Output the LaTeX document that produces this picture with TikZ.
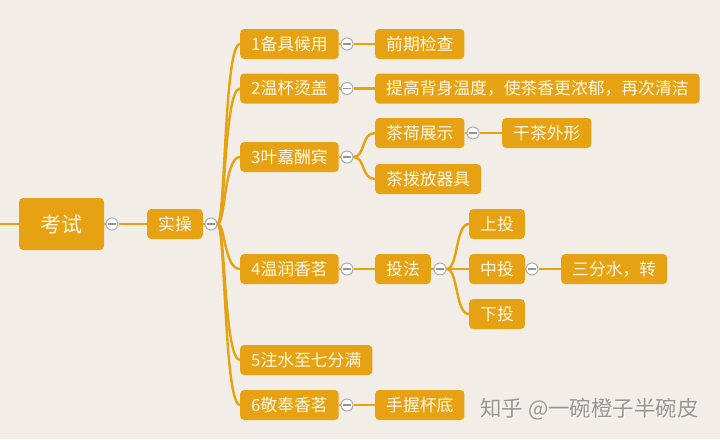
\documentclass[tikz,border=0pt]{standalone}
\usepackage{fontspec}
\newfontfamily\cjk{Noto Sans CJK SC}
\definecolor{boxc}{HTML}{E6A212}
\definecolor{linec}{HTML}{E6A212}
\definecolor{bgc}{HTML}{F2EEE7}
\definecolor{txt}{HTML}{FFF7E6}
\definecolor{wm}{HTML}{979591}
\definecolor{wmsh}{HTML}{FFFFFF}
\tikzset{
  box/.style={fill=boxc, rounded corners=4pt, text=txt, anchor=west,
    font=\cjk\fontsize{16.8}{18}\selectfont, minimum height=30pt,
    inner xsep=11pt, inner ysep=0pt},
  tog/.style={circle, draw=gray!65, fill=white, line width=1pt,
    minimum size=12pt, inner sep=0pt,
    path picture={\draw[gray!85, line width=1.3pt]
      ([xshift=-3.8pt]path picture bounding box.center) --
      ([xshift=3.8pt]path picture bounding box.center);}},
  link/.style={draw=linec, line width=2.4pt},
  wmark/.style={font=\cjk\fontsize{21.5}{23}\selectfont, anchor=west, inner sep=0pt},
}
\begin{document}
\begin{tikzpicture}[x=1pt,y=-1pt]
\fill[bgc] (0,0) rectangle (720,439);
\useasboundingbox (0,0) rectangle (720,439);
% nodes
\node[box, anchor=center, minimum width=85pt, minimum height=52pt,
  font=\cjk\fontsize{21}{24}\selectfont] (ks) at (61.5,224) {考试};
\node[box] (sc) at (147,224) {实操};
\node[box] (n1) at (240,44) {1备具候用};
\node[box] (n2) at (240,88.5) {2温杯烫盖};
\node[box] (n3) at (240,157) {3叶嘉酬宾};
\node[box] (n4) at (240,269) {4温润香茗};
\node[box] (n5) at (240,360) {5注水至七分满};
\node[box] (n6) at (240,405) {6敬奉香茗};
\node[box] (a1) at (375,44) {前期检查};
\node[box] (a2) at (375,88.5) {提高背身温度，使茶香更浓郁，再次清洁};
\node[box] (a3) at (375,133) {茶荷展示};
\node[box] (a4) at (375,179) {茶拨放器具};
\node[box] (a5) at (502,133) {干茶外形};
\node[box] (tf) at (375,269) {投法};
\node[box] (sh) at (469,224) {上投};
\node[box] (zh) at (469,269) {中投};
\node[box] (xi) at (469,314) {下投};
\node[box] (sf) at (561,269) {三分水，转};
\node[box] (a6) at (375,405) {手握杯底};
% toggles
\node[tog] (t0) at (112,224) {};
\node[tog] (t1) at (211,224) {};
\node[tog] (tn1) at (347,44) {};
\node[tog] (tn2) at (347,88.5) {};
\node[tog] (tn3) at (347,157) {};
\node[tog] (tn4) at (347,269) {};
\node[tog] (tn6) at (347,405) {};
\node[tog] (ta3) at (473,133) {};
\node[tog] (ttf) at (440,269) {};
\node[tog] (tzh) at (532,269) {};
% watermark
\node[wmark, text=wmsh] (wms) at (481,410) {知乎 @一碗橙子半碗皮};
\node[wmark, text=wm] (wmk) at (480,409) {知乎 @一碗橙子半碗皮};
% connectors
\coordinate (L) at (0,224);
\draw[link] (L) -- (ks.west);
\draw[link] (ks.east) -- (t0.west);
\draw[link] (t0.east) -- (sc.west);
\draw[link] (sc.east) -- (t1.west);
\foreach \n in {n1,n2,n3,n4,n5,n6}
  \draw[link] (t1.east) .. controls +(8,0) and +(-16,0) .. (\n.west);
\draw[link] (n1.east) -- (tn1.west);
\draw[link] (tn1.east) -- (a1.west);
\draw[link] (n2.east) -- (tn2.west);
\draw[link] (tn2.east) -- (a2.west);
\draw[link] (n3.east) -- (tn3.west);
\draw[link] (tn3.east) .. controls +(12,0) and +(-14,0) .. (a3.west);
\draw[link] (tn3.east) .. controls +(12,0) and +(-14,0) .. (a4.west);
\draw[link] (a3.east) -- (ta3.west);
\draw[link] (ta3.east) -- (a5.west);
\draw[link] (n4.east) -- (tn4.west);
\draw[link] (tn4.east) -- (tf.west);
\draw[link] (tf.east) -- (ttf.west);
\draw[link] (ttf.east) .. controls +(12,0) and +(-14,0) .. (sh.west);
\draw[link] (ttf.east) -- (zh.west);
\draw[link] (ttf.east) .. controls +(12,0) and +(-14,0) .. (xi.west);
\draw[link] (zh.east) -- (tzh.west);
\draw[link] (tzh.east) -- (sf.west);
\draw[link] (n6.east) -- (tn6.west);
\draw[link] (tn6.east) -- (a6.west);
\end{tikzpicture}
\end{document}
